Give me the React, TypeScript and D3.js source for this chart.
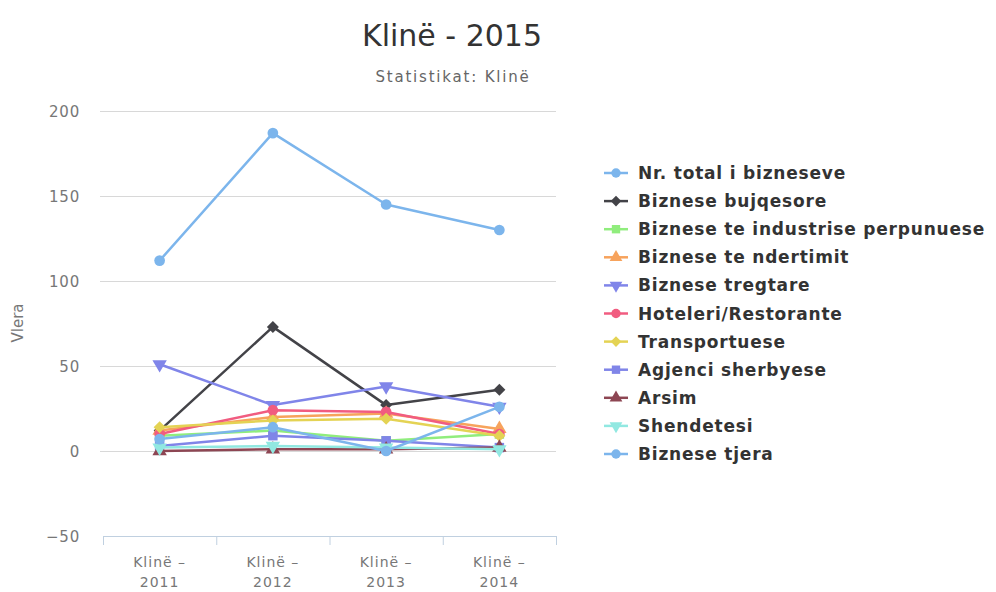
import React, { useRef, useEffect } from 'react';
import * as d3 from 'd3';

// categories and series values
const categories = ['Klinë - 2011', 'Klinë - 2012', 'Klinë - 2013', 'Klinë - 2014'];
const yTicks = [-50, 0, 50, 100, 150, 200];

const seriesNames = [
  'Nr. total i bizneseve',
  'Biznese bujqesore',
  'Biznese te industrise perpunuese',
  'Biznese te ndertimit',
  'Biznese tregtare',
  'Hoteleri/Restorante',
  'Transportuese',
  'Agjenci sherbyese',
  'Arsim',
  'Shendetesi',
  'Biznese tjera',
];

const totalBiz = [112, 187, 145, 130];
const bujqesore = [12, 73, 27, 36];
const industrise = [9, 12, 6, 10];
const ndertimit = [12, 20, 22, 13];
const tregtare = [51, 27, 38, 26];
const hoteleri = [10, 24, 23, 10];
const transport = [14, 18, 19, 9];
const agjenci = [3, 9, 6, 2];
const arsim = [0, 1, 1, 2];
const shendetesi = [2, 3, 2, 1];
const tjera = [7, 14, 0, 26];

const seriesValues = [totalBiz, bujqesore, industrise, ndertimit, tregtare, hoteleri, transport, agjenci, arsim, shendetesi, tjera];

const colors = ['#7cb5ec', '#434348', '#90ed7d', '#f7a35c', '#8085e9', '#f15c80', '#e4d354', '#8085e8', '#8d4653', '#91e8e1', '#7cb5ec'];
const markerTypes = ['circle', 'diamond', 'square', 'triangle', 'triangle-down'];

const W = 996;
const H = 592;

const markerPath = (type: string, size: number) => {
  const t = type === 'circle' ? d3.symbolCircle
    : type === 'diamond' || type === 'square' ? d3.symbolSquare
    : d3.symbolTriangle;
  return d3.symbol().type(t).size(type === 'diamond' ? size * 0.8 : size)();
};

const rot = (type: string) => type === 'triangle-down' ? ' rotate(180)' : type === 'diamond' ? ' rotate(45)' : '';

const App = () => {
  const svgRef = useRef<SVGSVGElement>(null);

  useEffect(() => {
    const svg = d3.select(svgRef.current);
    svg.selectAll('*').remove();
    const font = '"DejaVu Sans", Verdana, sans-serif';

    const x = d3.scaleBand().domain(categories).range([103, 556]);
    const y = d3.scaleLinear().domain([-50, 200]).range([536, 111]);
    const cx = (c: string) => x(c)! + x.bandwidth() / 2;

    svg.append('rect').attr('width', W).attr('height', H).attr('fill', '#fff');

    // title
    svg.append('text').attr('x', 452).attr('y', 46).attr('text-anchor', 'middle')
      .style('font-family', font).style('font-size', '30px').attr('fill', '#333')
      .text('Klinë - 2015');
    svg.append('text').attr('x', 453).attr('y', 82).attr('text-anchor', 'middle')
      .style('font-family', font).style('font-size', '15px').style('letter-spacing', '1.8px')
      .attr('fill', '#666').text('Statistikat: Klinë');

    // grid
    const g = svg.append('g');
    g.selectAll('line.grid').data(yTicks.filter(t => t > -50)).join('line')
      .attr('x1', 100).attr('x2', 556)
      .attr('y1', d => y(d) + 0.5).attr('y2', d => y(d) + 0.5)
      .attr('stroke', '#d8d8d8').attr('stroke-width', 1);

    g.selectAll('text.ylab').data(yTicks).join('text')
      .attr('x', 80).attr('y', d => y(d) + 6).attr('text-anchor', 'end')
      .style('font-family', font).style('font-size', '15px').style('letter-spacing', '0.8px')
      .attr('fill', '#777')
      .text(d => d3.format('')(d).replace('-', '−'));

    svg.append('text').attr('transform', 'translate(23,323) rotate(-90)')
      .attr('text-anchor', 'middle').style('font-family', font).style('font-size', '15px')
      .attr('fill', '#777').text('Vlera');

    // x axis
    const ax = svg.append('g').attr('transform', `translate(0,${y(-50)})`);
    ax.append('line').attr('x1', 103).attr('x2', 556).attr('y1', 0.5).attr('y2', 0.5)
      .attr('stroke', '#c0d0e0');
    const bounds = categories.map(c => x(c)!).concat([x.range()[1]]);
    ax.selectAll('line.tick').data(bounds).join('line')
      .attr('x1', d => d + 0.5).attr('x2', d => d + 0.5).attr('y1', 0).attr('y2', 9)
      .attr('stroke', '#c0d0e0');
    categories.forEach(c => {
      const parts = c.split(' - ');
      const t = ax.append('text').attr('text-anchor', 'middle')
        .style('font-family', font).style('font-size', '14px').style('letter-spacing', '1px')
        .attr('fill', '#777');
      t.append('tspan').attr('x', cx(c)).attr('y', 31).text(parts[0] + ' –');
      t.append('tspan').attr('x', cx(c)).attr('y', 51).text(parts[1]);
    });

    // lines
    const line = d3.line<number>().x((_, i) => cx(categories[i])).y(d => y(d));
    seriesValues.forEach((vals, si) => {
      const s = svg.append('g');
      s.append('path').attr('d', line(vals)).attr('fill', 'none')
        .attr('stroke', colors[si]).attr('stroke-width', 2.5).attr('stroke-linejoin', 'round');
      const mt = markerTypes[si % 5];
      s.selectAll('path.m').data(vals).join('path')
        .attr('d', markerPath(mt, 90))
        .attr('transform', (d, i) => `translate(${cx(categories[i])},${y(d)})${rot(mt)}`)
        .attr('fill', colors[si]);
    });

    // legend
    const lg = svg.append('g');
    seriesNames.forEach((name, si) => {
      const ly = 173 + si * 28.1;
      const mt = markerTypes[si % 5];
      lg.append('line').attr('x1', 604).attr('x2', 628).attr('y1', ly).attr('y2', ly)
        .attr('stroke', colors[si]).attr('stroke-width', 2.5);
      lg.append('path').attr('d', markerPath(mt, 70))
        .attr('transform', `translate(616,${ly})${rot(mt)}`)
        .attr('fill', colors[si]);
      lg.append('text').attr('x', 638).attr('y', ly + 6)
        .style('font-family', font).style('font-size', '17px').style('font-weight', 'bold')
        .style('letter-spacing', '0.8px').attr('fill', '#333').text(name);
    });
  }, []);

  return (
    <svg ref={svgRef} width={W} height={H} style={{ position: 'absolute', left: 0, top: 0 }} />
  );
};

export default App;
